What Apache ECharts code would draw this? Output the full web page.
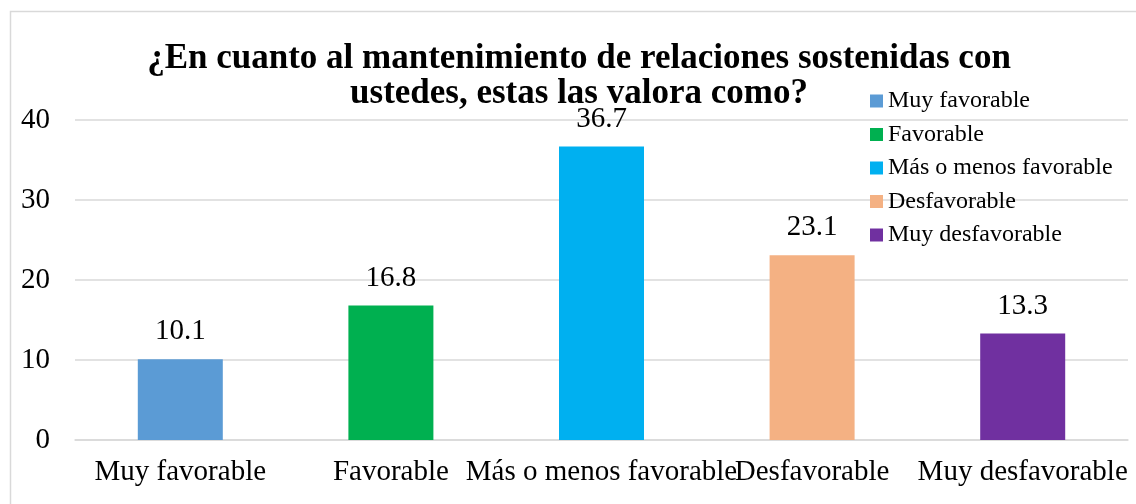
<!DOCTYPE html>
<html>
<head>
<meta charset="utf-8">
<script src="https://cdn.jsdelivr.net/npm/echarts@6/dist/echarts.min.js"></script>
<style>
  html, body { margin: 0; padding: 0; background: #fff; }
  #chart { width: 1136px; height: 504px; }
</style>
</head>
<body>
<div id="chart"></div>
<script>
const titleText = '¿En cuanto al mantenimiento de relaciones sostenidas con\nustedes, estas las valora como?';
const categories = ['Muy favorable', 'Favorable', 'Más o menos favorable', 'Desfavorable', 'Muy desfavorable'];
const values = [10.1, 16.8, 36.7, 23.1, 13.3];
const colors = ['#5b9bd5', '#00b050', '#00b0f0', '#f4b183', '#7030a0'];
const yTicks = [0, 10, 20, 30, 40];

const serif = 'Liberation Serif';

// one series per category so the legend lists each, stacked so they share a slot
const series = categories.map((name, i) => ({
  name: name,
  type: 'bar',
  stack: 'total',
  barWidth: 85,
  itemStyle: { color: colors[i] },
  label: {
    show: true,
    position: 'top',
    distance: 13,
    color: '#000',
    fontFamily: serif,
    fontSize: 29
  },
  data: categories.map((c, j) => (j === i ? values[j] : '-'))
}));

const chart = echarts.init(document.getElementById('chart'));
chart.setOption({
  animation: false,
  legend: {
    orient: 'vertical',
    left: 865,
    top: 84,
    icon: 'rect',
    itemWidth: 13,
    itemHeight: 13,
    itemGap: 9.5,
    textStyle: { fontFamily: serif, fontSize: 24, color: '#000', padding: [0, 0, 0, 0] },
    data: categories
  },
  graphic: [{
    type: 'rect',
    shape: { x: 10.5, y: 11.5, width: 1300, height: 700 },
    style: { fill: 'none', stroke: '#d9d9d9', lineWidth: 1.5 },
    silent: true
  }, {
    type: 'text',
    x: 579,
    y: 41,
    silent: true,
    style: {
      text: titleText,
      align: 'center',
      verticalAlign: 'top',
      fontFamily: serif,
      fontWeight: 'bold',
      fontSize: 35,
      lineHeight: 35,
      fill: '#000'
    }
  }],
  grid: { left: 75, right: 8, top: 120, bottom: 64 },
  xAxis: {
    type: 'category',
    data: categories,
    axisTick: { show: false },
    axisLine: { lineStyle: { color: '#d9d9d9', width: 1.5 } },
    axisLabel: {
      interval: 0,
      margin: 18,
      color: '#000',
      fontFamily: serif,
      fontSize: 29
    }
  },
  yAxis: {
    type: 'value',
    min: yTicks[0],
    max: yTicks[yTicks.length - 1],
    interval: 10,
    axisLine: { show: false },
    axisTick: { show: false },
    splitLine: { lineStyle: { color: '#d9d9d9', width: 1.5 } },
    axisLabel: {
      margin: 25,
      color: '#000',
      fontFamily: serif,
      fontSize: 29
    }
  },
  series: series
});
</script>
</body>
</html>
